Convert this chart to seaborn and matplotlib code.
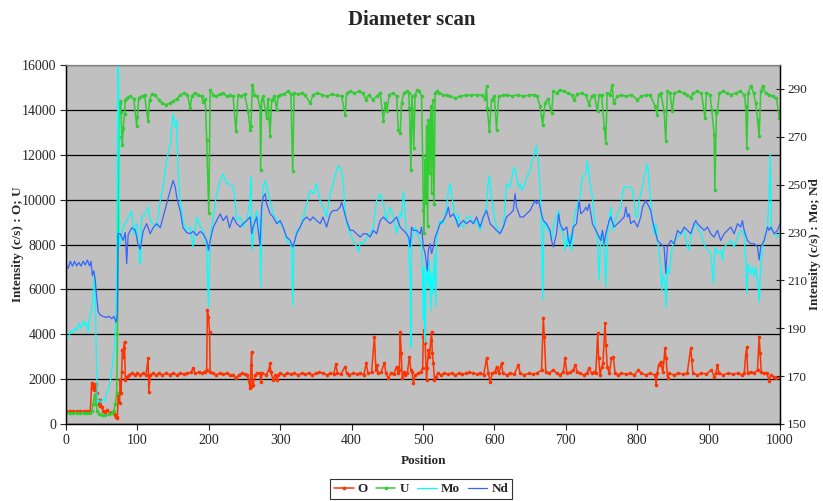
import matplotlib
matplotlib.use("Agg")
import matplotlib.pyplot as plt
import seaborn as sns
import pandas as pd

# ---- O (left axis, c/s) ----
o_pos = [0, 5, 10, 15, 20, 25, 30, 34, 36, 37, 38, 39, 40, 41, 42, 43, 44, 46, 47, 48, 50, 52, 55, 58, 61, 64, 67, 69, 70, 71, 72, 73, 74, 75, 76, 77, 78, 79, 80, 81, 82, 83, 85, 88, 92, 96, 100, 104, 108, 112, 115, 116, 118, 122, 126, 130, 135, 140, 145, 150, 155, 160, 165, 170, 175, 178, 181, 186, 190, 194, 197, 198, 199.5, 201, 202, 206, 210, 215, 220, 225, 230, 234, 238, 242, 246, 250, 254, 258, 259, 260, 261, 262, 265, 268, 271.7, 272.6, 275, 280, 284, 285.7, 287, 290, 293, 295, 297, 300, 305, 310, 315, 320, 325, 330, 335, 340, 345, 350, 355, 360, 365, 370, 375, 378, 380, 385, 391, 393, 397, 402, 407, 412, 417, 420.5, 423, 428, 432, 434, 435, 437, 441, 446, 448, 451.5, 455, 459, 463, 465, 467, 468, 469.5, 471, 473, 475, 478, 481, 483, 485, 486.5, 489, 493, 497, 499.5, 500.5, 501.5, 503, 505, 506, 507.5, 509, 511, 512, 513, 514.5, 516, 518, 521, 525, 530, 535, 540, 545, 550, 555, 560, 565, 570, 575, 580, 585, 589, 591.5, 594, 597, 601, 603, 606, 610, 612, 617, 622, 628, 633.5, 636, 642, 648, 654, 660, 666, 668.5, 670, 672, 676, 682.5, 687, 692, 696.5, 699, 701.5, 706, 710.5, 713, 716, 720, 725, 729, 732.7, 736, 740, 742, 744.7, 746, 748, 750.3, 752, 755, 756.3, 758, 761, 764, 766.6, 769, 773, 778, 784, 790, 796, 801.6, 806, 812, 818, 825, 826.5, 828, 830, 833, 836, 839, 840.5, 842.5, 845, 851, 857.7, 864, 870, 875, 876.5, 878, 884, 890, 897, 904, 907.7, 910, 912.4, 914.7, 920, 927, 934, 941, 947, 949.8, 952, 953.5, 954.7, 959, 964, 968.5, 970.8, 972.2, 973.7, 977, 981.5, 985, 987, 991, 995, 1000]
o_val = [560, 560, 560, 560, 560, 560, 560, 570, 1840, 1600, 1800, 1517, 1750, 1665, 1800, 1400, 900, 1050, 800, 1070, 773, 600, 550, 620, 500, 520, 480, 400, 330, 250, 300, 1300, 1400, 920, 1940, 1370, 2300, 3300, 3000, 3400, 3668, 1960, 2112, 2186, 2260, 2186, 2260, 2186, 2260, 2186, 2929, 1442, 2186, 2260, 2186, 2260, 2186, 2260, 2200, 2260, 2186, 2260, 2230, 2260, 2300, 2483, 2260, 2300, 2260, 2335, 2409, 5085, 4788, 4119, 2335, 2260, 2186, 2260, 2230, 2260, 2186, 2200, 2037, 2186, 2260, 2230, 2186, 1591, 2632, 3227, 1700, 1740, 2186, 2260, 2260, 1888, 2260, 2186, 2400, 2706, 2300, 1963, 2186, 1963, 2186, 2260, 2186, 2260, 2230, 2260, 2186, 2260, 2230, 2260, 2186, 2260, 2300, 2260, 2186, 2260, 2230, 2677, 2260, 2230, 2558, 2260, 2186, 2260, 2230, 2260, 2186, 2706, 2260, 2300, 3896, 2400, 2632, 2260, 2300, 2706, 2260, 2037, 2260, 2230, 2558, 2260, 2400, 4119, 3152, 2037, 2300, 2186, 2260, 3004, 2409, 2300, 1814, 2186, 2260, 2335, 2500, 3896, 4193, 3599, 1963, 2500, 3301, 3004, 3747, 4119, 3152, 2706, 1963, 2112, 2260, 2186, 2260, 2230, 2260, 2186, 2260, 2230, 2260, 2300, 2260, 2230, 2260, 2186, 2929, 2260, 1888, 2260, 2335, 2558, 2260, 2706, 2260, 2186, 2260, 2230, 2632, 2260, 2186, 2260, 2230, 2260, 2409, 4714, 3896, 2335, 2260, 2409, 2260, 2186, 2335, 2929, 2260, 2300, 2409, 2632, 2335, 2260, 2186, 2260, 2483, 2260, 2300, 2260, 4045, 2929, 2186, 2558, 2706, 4491, 3524, 2558, 2260, 2929, 3004, 2260, 2186, 2260, 2230, 2260, 2186, 2409, 2260, 2186, 2260, 2186, 1740, 2260, 2632, 2781, 2300, 3376, 2929, 2037, 2260, 2186, 2260, 2230, 2260, 3376, 2850, 2260, 2186, 2260, 2230, 2409, 2112, 2260, 2632, 2260, 2186, 2260, 2230, 2260, 2186, 2260, 3078, 3450, 2260, 2335, 2260, 2409, 3896, 3152, 2335, 2260, 2260, 1933, 2186, 2112, 2037, 2112]

# ---- U (left axis, c/s) ----
u_pos = [0, 5, 10, 15, 20, 25, 30, 34, 36, 38, 40, 42, 44, 46, 50, 55, 60, 64, 67, 69, 71, 72, 73, 74, 75, 76, 77, 78, 79, 80, 82, 83, 86, 90, 95, 99, 100, 102, 106, 110, 115, 117, 120, 125, 130, 135, 140, 145, 150, 155, 160, 165, 170, 174, 176, 180, 185, 190, 192, 195, 197, 200, 202, 206, 210, 215, 220, 225, 230, 234, 238, 241, 245, 250, 255, 258, 259, 261, 264, 268, 271.7, 272.6, 274, 276, 281, 283, 285.7, 288, 292, 295, 297, 300, 305, 311, 315, 317.5, 319.5, 325, 330, 335, 342, 346, 352, 358, 365, 372, 380, 386, 391, 393, 398, 404, 410, 416, 420, 424, 430, 435, 440, 444.5, 447, 449, 453, 458.5, 463, 465.5, 468, 470, 473, 477, 480, 481, 483, 484.5, 485.5, 487, 489, 492, 495, 498, 499.5, 500.5, 501.5, 503, 504, 505, 506.5, 507.5, 509, 510, 511, 512, 513.6, 515.4, 517, 519, 523, 528, 533, 538, 545, 552, 560, 567, 575, 582, 587, 589, 590, 593, 596, 600, 603, 606, 612, 618, 625, 633.5, 640, 648, 655, 660, 664, 666, 667.6, 671, 675, 680, 682.5, 687, 692, 697, 703, 708, 711.7, 716, 722, 728, 732.7, 736, 740, 744.4, 746.7, 750, 754, 756, 758, 762, 765, 767, 772, 778, 785, 792, 800, 806, 812, 818, 825, 828, 830, 833, 837.7, 840, 842.3, 846, 849, 852, 858, 865, 870, 875, 878, 884, 890, 895, 897, 902, 904.4, 907.7, 908.7, 911, 912.4, 915, 920, 926, 932, 938, 944, 950, 952, 953.5, 955.4, 959, 963, 966, 968.5, 970.8, 973, 975.5, 980, 985, 990, 995, 999, 1000]
u_val = [480, 470, 480, 470, 480, 470, 480, 490, 560, 900, 1300, 900, 560, 450, 420, 410, 430, 480, 600, 900, 1400, 4000, 8300, 12800, 14300, 14380, 13900, 13040, 12450, 13190, 13800, 14450, 14550, 14600, 14500, 13264, 13700, 14550, 14600, 14650, 13490, 14450, 14700, 14650, 14450, 14300, 14230, 14300, 14380, 14500, 14650, 14750, 14680, 14080, 14600, 14750, 14680, 14600, 14350, 14500, 12670, 9400, 14900, 14680, 14600, 14700, 14750, 14600, 14680, 14600, 13040, 14680, 14600, 14700, 13933, 13116, 13264, 15123, 14680, 14600, 14156, 11300, 14450, 14602, 13636, 14500, 12818, 14450, 14600, 14007, 14600, 14680, 14700, 14825, 14700, 11256, 14750, 14700, 14750, 14650, 14300, 14680, 14750, 14680, 14602, 14700, 14650, 14600, 13785, 14750, 14825, 14750, 14825, 14750, 14454, 14680, 14454, 14602, 14750, 13487, 14305, 13933, 14680, 14750, 14602, 13115, 12967, 14305, 14750, 14825, 14750, 14082, 11331, 14602, 14007, 12297, 14680, 14900, 14825, 14602, 11926, 9547, 8506, 11777, 9844, 13264, 8803, 13560, 11182, 13115, 14156, 10290, 14454, 9800, 14750, 14825, 14750, 14680, 14650, 14602, 14528, 14602, 14650, 14650, 14680, 14650, 14500, 15048, 14082, 13041, 14454, 14602, 13115, 14602, 14650, 14680, 14602, 14677, 14602, 14650, 14680, 14600, 14156, 13710, 13340, 14305, 14500, 13860, 14825, 14750, 14900, 14825, 14750, 14680, 14454, 14700, 14750, 14650, 14230, 14600, 14650, 13933, 14677, 14650, 13190, 12520, 14750, 14680, 15123, 14305, 14602, 14650, 14602, 14680, 14454, 14600, 14650, 14680, 14156, 13785, 14677, 14750, 13933, 12595, 14825, 14750, 13933, 14750, 14825, 14750, 14680, 14528, 14750, 14825, 14750, 13636, 14750, 14680, 14007, 12892, 10439, 13859, 13933, 14750, 14825, 14750, 14680, 14750, 14825, 14680, 14156, 12297, 14750, 15080, 14750, 14305, 13560, 12818, 14825, 15048, 14750, 14680, 14602, 14528, 13636, 13900]

# ---- Mo (right axis, c/s) ----
mo_pos = [0, 3, 6, 9, 12, 15, 18, 21, 24, 27, 29, 31, 33, 35, 37, 38, 40, 41, 42, 44, 46, 49, 52, 55, 57, 60, 62, 64, 66, 68, 69, 70, 71, 72, 73, 74, 75, 77, 80, 85, 90, 92, 95, 99, 103, 104, 106, 111, 115, 118, 122, 127, 132, 136, 141, 146, 150, 153, 155, 157, 160, 164, 169, 174, 178, 183, 188, 192, 197, 199.5, 202, 206, 211, 216, 220, 225, 229, 234, 237, 239, 244, 248, 253, 258, 259, 260.5, 265, 267, 271.7, 272.6, 274.5, 276.4, 278.7, 281, 285.7, 290.4, 295, 300, 304.4, 309, 313.7, 316, 317.5, 319.3, 323, 327.8, 332.4, 337, 342, 346.4, 351, 355.8, 360.4, 365, 370, 374.4, 379, 381.5, 386, 388.4, 391, 393, 398, 402.4, 407, 410, 412, 416.5, 421, 426, 430.5, 435, 440, 444.5, 449, 454, 458.5, 463, 468, 470, 472.5, 475, 477, 479.5, 482, 483, 484, 486.5, 489, 491, 493.5, 496, 498, 499.5, 500.5, 501.5, 502.3, 503, 504, 505, 507.5, 509, 511, 512, 513.6, 514.5, 516, 518, 519, 521.5, 524, 528.5, 533, 535.5, 538, 540, 542.5, 545, 547, 549.5, 552, 556.5, 561, 566, 570.5, 575, 580, 584.5, 589, 591.5, 593, 595, 597.6, 600, 603, 608, 612.5, 615, 617, 622, 626.5, 629, 631, 633.5, 636, 638, 640.5, 643, 645, 650, 652, 654.5, 657, 659, 661.5, 664, 666, 667.6, 669.5, 673, 678, 680, 682.5, 687, 690, 692, 696.5, 699, 701.5, 703.6, 706, 708.3, 710.5, 715, 720, 723.3, 728, 730.3, 732.7, 735, 737.3, 739.7, 742, 744.4, 746.7, 749, 751.4, 753.7, 756, 758.4, 760.7, 763, 765.4, 767.7, 772.4, 777, 779.4, 781.7, 786.4, 791, 793.4, 795.7, 798, 800.4, 802.7, 805, 807.4, 809.7, 812, 814.4, 816.7, 819, 821.4, 823.7, 826, 828.4, 830.7, 833, 834.5, 836.8, 839, 840.5, 842.3, 844.6, 847, 849.3, 851.7, 856.4, 861, 865.7, 870.4, 872.7, 875, 879.7, 884.4, 889, 893.8, 898.4, 903, 906.8, 908.7, 912.4, 917, 919.4, 921.8, 926.4, 931, 935.8, 940.5, 945, 949.8, 952, 953.5, 955.4, 959, 961.5, 963.8, 966, 968.5, 970.8, 973, 975.5, 977.8, 980, 982.5, 984.8, 986.2, 988, 991.8, 996.4, 1000]
mo_val = [185, 186, 189, 188, 190, 189, 192, 190, 193, 191, 192.5, 188, 195, 196, 200, 204.5, 212.8, 205, 185, 158.6, 160, 159, 160.5, 159.5, 162.8, 165, 168, 172, 176.7, 182, 187.8, 195, 220, 260, 310, 280, 224, 228, 232, 235, 237.8, 239, 229.5, 233.7, 218, 217, 236.5, 237.8, 240.6, 235, 233.7, 232.3, 243.4, 249, 260, 267, 279.5, 274, 276.8, 256, 243, 235, 231, 232.3, 224, 236.5, 232.3, 230.9, 224, 199, 228.1, 236.5, 246, 251.7, 254.5, 250.4, 250.4, 249, 243.4, 235, 236.5, 232.3, 235, 243.4, 253.1, 222.6, 236.5, 239.2, 233.7, 207.3, 242, 249, 251.7, 249, 243.4, 237.8, 235, 233.7, 232.3, 226.7, 225.3, 224, 199.6, 224, 230.9, 232.3, 236.5, 242, 247.6, 246.2, 250.4, 243.4, 240.6, 236.5, 246.2, 250.4, 256, 258, 256, 250.4, 239.2, 233.7, 229.5, 226.7, 224, 221.9, 226, 225.3, 228.1, 229.5, 232.3, 243.4, 246.2, 242, 235, 240.6, 236.5, 229.5, 238, 236.5, 247, 237.8, 229.5, 226.7, 211, 182, 226.7, 230.9, 232.3, 229.5, 228.1, 226.7, 224, 211, 193.4, 215.7, 184, 189, 204.5, 215.7, 207.3, 218.4, 197.5, 212.8, 204.5, 211.4, 221, 199, 226.7, 232.3, 235, 233.7, 240.6, 247.6, 250.4, 246.2, 240.6, 236.5, 233.7, 237.8, 233.7, 232.3, 236.5, 236.5, 233.7, 235, 230.9, 236.5, 240.6, 251.7, 253.8, 246.2, 242, 236.5, 232.3, 229.5, 232.3, 242, 250.4, 249, 256, 257.3, 253.1, 249, 250.4, 247.6, 249, 250.4, 253.1, 256, 258.7, 261.5, 264.2, 266.3, 259.6, 249, 232.3, 201.9, 235, 232.3, 229.5, 226.7, 232.3, 236.5, 239.2, 232.3, 229.5, 222.6, 228.1, 224, 229.5, 222.6, 233.7, 240.6, 244.8, 253.1, 254.5, 260, 253.1, 249, 244.8, 236.5, 232.3, 228.1, 210, 229.5, 226.7, 224, 207.3, 229.5, 235, 240.6, 230.9, 233.7, 237.8, 240.6, 246.2, 249, 249, 249, 247.6, 243.4, 236.5, 236.5, 243.4, 246.2, 249, 253.1, 256, 258.7, 250.4, 242, 235, 229.5, 233.7, 226.7, 221.2, 215.6, 205.9, 212.8, 207.3, 198.9, 215.6, 212.8, 218.4, 224, 226.7, 228.1, 229.5, 230.9, 224, 222.6, 228.1, 233.7, 232.3, 229.5, 225.3, 222.6, 221.2, 208.7, 224, 221.2, 222.6, 218.4, 224, 225.3, 226.7, 224, 228.1, 230.9, 229.5, 218.4, 204.5, 217, 212.8, 215.6, 211.4, 215.6, 210, 201, 215.6, 224, 226.7, 229.5, 232.3, 246.2, 262.9, 232.3, 229.5, 228.1, 229.5]

# ---- Nd (right axis, c/s) ----
nd_pos = [0, 3, 6, 9, 12, 15, 18, 21, 24, 27, 30, 33, 35, 37, 39, 41, 43, 45, 48, 52, 56, 60, 64, 67, 70, 72, 73, 76, 80, 83, 85, 87, 92, 97, 101, 104, 108, 113, 118, 122, 127, 132, 136, 141, 146, 150, 153, 155, 160, 164, 169, 174, 178, 183, 188, 192, 197, 199.5, 202, 206, 211, 216, 220, 225, 229, 234, 239, 244, 248, 253, 258, 260, 262, 267, 271.7, 274, 276, 279, 281, 286, 290, 295, 300, 304, 309, 314, 318, 323, 328, 332, 337, 342, 346, 351, 356, 360, 365, 370, 374, 379, 384, 386, 388, 393, 398, 402, 407, 412, 416.5, 421, 426, 430.5, 435, 440, 444.5, 449, 454, 458.5, 463, 468, 472.5, 477, 480, 482, 484, 486.5, 491, 496, 498, 500.5, 503, 506, 507.5, 510, 512, 514.5, 517, 519, 524, 528.5, 533, 535.5, 538, 542.5, 547, 549.5, 552, 556.5, 561, 566, 570.5, 575, 580, 584.5, 589, 591.5, 594, 598.5, 603, 608, 612.5, 617, 622, 626.5, 629, 631, 636, 640.5, 645, 650, 654.5, 657, 659, 661.5, 664, 666, 668.5, 673, 678, 680, 682.5, 687, 690, 692, 696.5, 701.5, 703.6, 706, 708.3, 710.5, 715, 718.7, 721, 725.6, 728, 730.3, 732.7, 735, 737.3, 739.7, 742, 744.4, 746.7, 749, 751.4, 753.7, 756, 758.4, 760.7, 763, 767.7, 772.4, 777, 781.7, 784, 786.4, 788.7, 791, 795.7, 800.4, 805, 807.4, 809.7, 812, 814.4, 816.7, 819, 821.4, 823.7, 828.4, 833, 837.7, 840, 842.3, 847, 851.7, 856.4, 861, 865.7, 870.4, 875, 879.7, 882, 884.4, 889, 893.8, 898.4, 903, 907.7, 912.4, 917, 921.8, 926.4, 931, 935.8, 940.5, 945, 947.4, 949.8, 954.4, 959, 963.8, 968.5, 970.8, 973, 977.8, 982.5, 984.8, 987, 991.8, 996.4, 1000]
nd_val = [217, 215, 218, 216, 218, 216, 217.5, 216, 218, 216.5, 218.5, 216, 218, 212, 214, 210, 203, 197, 195.5, 195, 194.5, 195, 194, 195, 192.5, 196, 229.5, 229.5, 226.7, 230, 217, 229, 232, 231, 225, 223, 230.5, 233.7, 229.5, 232, 233.7, 232, 236.5, 242, 247.6, 251.7, 249, 244.8, 239, 232, 230, 229.5, 230.5, 228.8, 230.5, 229.5, 226.7, 222.6, 226.7, 232, 235, 237.8, 235, 237, 232, 236.5, 233.7, 232.3, 233.7, 235, 236.5, 229.5, 232.3, 236.5, 224.7, 240.6, 244.8, 246.2, 242, 237.8, 236.5, 233.7, 235, 232.3, 228.1, 226.7, 224, 229.5, 232.3, 235, 236.5, 235, 236.5, 235, 233.7, 236.5, 232.3, 237.8, 239.2, 239.2, 240.6, 242.7, 240.6, 235, 230.9, 230.9, 229.5, 228.1, 229.5, 229.5, 228.1, 230.9, 229.5, 235, 236.5, 235, 233.7, 235, 236.5, 232.3, 230.9, 229.5, 228, 224, 232.3, 230.9, 230.9, 229.5, 232.3, 224, 221.2, 214, 222.6, 225.3, 221.2, 224, 228.1, 229.5, 233.7, 235, 237.8, 240.6, 236.5, 237.8, 235, 232.3, 233.7, 235, 233.7, 235, 233.7, 236.5, 232.3, 236.5, 239.2, 236.5, 233.7, 232.3, 230.9, 229.5, 232.3, 236.5, 237.8, 239.2, 246.2, 240.6, 236.5, 236.5, 237.8, 239.2, 242, 243.4, 242, 243.4, 240.6, 237.8, 235, 233.7, 230.9, 226.7, 224, 229.5, 237.8, 233.7, 230.9, 232.3, 226.7, 225.3, 228.1, 232.3, 233.7, 243.4, 237.8, 239.2, 240.6, 239.2, 242, 237.8, 233.7, 232.3, 230.9, 229.5, 228.1, 226.7, 230.9, 225.3, 229.5, 232.3, 235, 236.5, 232.3, 233.7, 235, 236.5, 240.6, 236.5, 237.8, 233.7, 235, 232.3, 236.5, 240.6, 242, 243.4, 242, 240.6, 239.2, 235, 232.3, 226.7, 225.3, 224, 213, 224, 226.7, 225.3, 230.9, 229.5, 232.3, 230.9, 229.5, 233.7, 235, 233.7, 232.3, 230.9, 232.3, 229.5, 228.1, 230.9, 226.7, 229.5, 230.9, 232.3, 229.5, 233.7, 232.3, 235, 230.9, 226.7, 225.3, 225.3, 224, 218.6, 224, 226.7, 232.3, 230.9, 232.3, 229.5, 230.9, 233.7]

x_ticks = list(range(0, 1001, 100))
left_ticks = list(range(0, 16001, 2000))
right_ticks = list(range(150, 291, 20))

C_O, C_U, C_MO, C_ND = "#FF3300", "#33CC33", "#00FFFF", "#3366FF"

sns.set_style("ticks")
plt.rcParams["font.family"] = ["Liberation Serif", "DejaVu Serif"]

fig = plt.figure(figsize=(8.23, 5.01), dpi=100)
ax = fig.add_axes([66 / 823, 1 - 424 / 501, (780 - 66) / 823, (424 - 65) / 501])
ax.set_facecolor("#C0C0C0")

df_o = pd.DataFrame({"Position": o_pos, "val": o_val})
df_u = pd.DataFrame({"Position": u_pos, "val": u_val})
df_mo = pd.DataFrame({"Position": mo_pos, "val": mo_val})
df_nd = pd.DataFrame({"Position": nd_pos, "val": nd_val})

sns.lineplot(data=df_o, x="Position", y="val", ax=ax, color=C_O, lw=1.1,
             marker="o", markersize=2.6, markeredgewidth=0, estimator=None, label="O")
sns.lineplot(data=df_u, x="Position", y="val", ax=ax, color=C_U, lw=1.1,
             marker="o", markersize=2.6, markeredgewidth=0, estimator=None, label="U")

ax2 = ax.twinx()
sns.lineplot(data=df_mo, x="Position", y="val", ax=ax2, color=C_MO, lw=0.9,
             estimator=None, label="Mo")
sns.lineplot(data=df_nd, x="Position", y="val", ax=ax2, color=C_ND, lw=0.9,
             estimator=None, label="Nd")

ax.set_xlim(0, 1000)
ax.set_ylim(0, 16000)
ax2.set_ylim(150, 300)
ax.set_xticks(x_ticks)
ax.set_yticks(left_ticks)
ax2.set_yticks(right_ticks)

ax.yaxis.grid(True, color="black", lw=0.9)
ax.set_axisbelow(True)

for a in (ax, ax2):
    for s in ("left", "right", "bottom"):
        a.spines[s].set_color("black")
        a.spines[s].set_linewidth(0.9)
    a.spines["top"].set_color("#808080")
    a.spines["top"].set_linewidth(0.8)

ax.tick_params(axis="both", direction="out", length=4, width=0.8, labelsize=10, pad=3)
ax2.tick_params(axis="y", direction="inout", length=6, width=0.8, labelsize=9.5, pad=2)

lab_font = dict(fontsize=9.5, fontweight="bold")
ax.set_xlabel("Position", labelpad=6, **lab_font)
ax.set_ylabel("")
ax2.set_ylabel("")
mid_y = 0.5 * ((1 - 424 / 501) + (1 - 65 / 501))
fig.text(18 / 823, mid_y, "Intensity (c/s) : O; U",
         rotation=90, ha="center", va="center", **lab_font)
fig.text(815 / 823, mid_y, "Intensity (c/s) : Mo; Nd",
         rotation=90, ha="center", va="center", **lab_font)

fig.suptitle("Diameter scan", x=0.5, y=0.98, fontsize=15, fontweight="bold")

handles = ax.get_legend_handles_labels()[0] + ax2.get_legend_handles_labels()[0]
labels = ["O", "U", "Mo", "Nd"]
ax.get_legend().remove()
ax2.get_legend().remove()
leg = fig.legend(handles, labels, loc="center", bbox_to_anchor=(421 / 823, 1 - 489 / 501),
                 ncol=4, frameon=True, fancybox=False, edgecolor="black",
                 prop={"size": 9.5, "weight": "bold"}, handlelength=1.5,
                 columnspacing=0.6, handletextpad=0.3, borderpad=0.3,
                 borderaxespad=0.0)
leg.get_frame().set_linewidth(0.8)

fig.savefig("out.png", dpi=100)
